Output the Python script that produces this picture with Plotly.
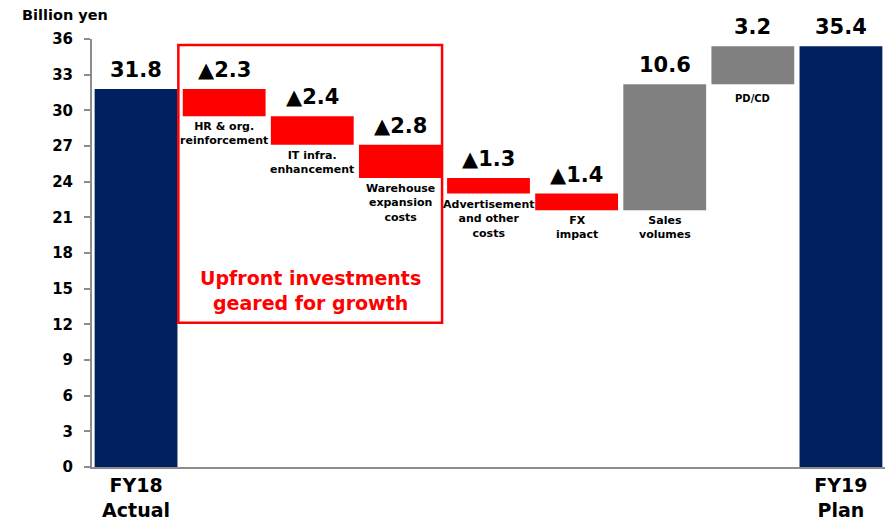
import plotly.graph_objects as go

# Operating profit bridge, FY18 actual -> FY19 plan (billion yen)
categories = [
    "FY18<br>Actual",
    "HR & org.<br>reinforcement",
    "IT infra.<br>enhancement",
    "Warehouse<br>expansion<br>costs",
    "Advertisement<br>and other<br>costs",
    "FX<br>impact",
    "Sales<br>volumes",
    "PD/CD",
    "FY19<br>Plan",
]
start_value = 31.8
changes = [-2.3, -2.4, -2.8, -1.3, -1.4, 10.6, 3.2]
end_value = 35.4
y_ticks = [0, 3, 6, 9, 12, 15, 18, 21, 24, 27, 30, 33, 36]

NAVY = "#002060"
RED = "#FF0000"
GREY = "#808080"
AXIS_GREY = "#8c8c8c"
FONT = "DejaVu Sans"

# Build bar bases / heights from the running total
bases, heights, colors, labels = [0], [start_value], [NAVY], [f"{start_value:.1f}"]
running = start_value
for c in changes:
    if c < 0:
        bases.append(running + c)
        heights.append(-c)
        colors.append(RED)
        labels.append(f"▲{-c:.1f}")
    else:
        bases.append(running)
        heights.append(c)
        colors.append(GREY)
        labels.append(f"{c:.1f}")
    running += c
bases.append(0)
heights.append(end_value)
colors.append(NAVY)
labels.append(f"{end_value:.1f}")

xs = list(range(len(categories)))

fig = go.Figure()
fig.add_trace(go.Bar(
    x=xs, y=heights, base=bases,
    marker=dict(color=colors, line=dict(width=0)),
    width=0.94, hoverinfo="skip",
))

annotations = []
for i, (b, h, lab) in enumerate(zip(bases, heights, labels)):
    top = b + h
    annotations.append(dict(
        x=i, y=top, xref="x", yref="y", text=lab, showarrow=False,
        yanchor="bottom", yshift=5,
        font=dict(family=FONT, size=21, color="black", weight="bold"),
    ))
    if 0 < i < len(categories) - 1:
        small = categories[i] == "PD/CD"
        annotations.append(dict(
            x=i, y=b, xref="x", yref="y", text=categories[i], showarrow=False,
            yanchor="top", yshift=-7 if small else -2,
            font=dict(family=FONT, size=10 if small else 11,
                      color="black", weight="bold"),
        ))

# Bracket around the upfront investment items
box_x0, box_x1, box_y0, box_y1 = 0.48, 3.473, 12.14, 35.49
annotations.append(dict(
    x=(box_x0 + box_x1) / 2, y=14.85, xref="x", yref="y",
    text="Upfront investments<br>geared for growth", showarrow=False,
    font=dict(family=FONT, size=19, color=RED, weight="bold"),
))
annotations.append(dict(
    x=-0.091, y=1.056, xref="paper", yref="paper", text="Billion yen",
    showarrow=False, xanchor="left", yanchor="middle",
    font=dict(family=FONT, size=14.5, color="black", weight="bold"),
))

fig.update_layout(
    width=895, height=520,
    margin=dict(l=92, r=10, t=39, b=53),
    paper_bgcolor="white", plot_bgcolor="white",
    showlegend=False,
    annotations=annotations,
    shapes=[dict(
        type="rect", xref="x", yref="y",
        x0=box_x0, x1=box_x1, y0=box_y0, y1=box_y1,
        line=dict(color=RED, width=2.5), fillcolor="rgba(0,0,0,0)",
    )],
    xaxis=dict(
        range=[-0.5, len(categories) - 0.5],
        tickvals=[0, len(categories) - 1],
        ticktext=[categories[0], categories[-1]],
        tickfont=dict(family=FONT, size=19, color="black", weight="bold"),
        showline=True, linecolor=AXIS_GREY, linewidth=2,
        ticks="", showgrid=False, zeroline=False,
        automargin=False, ticklabelstandoff=0,
    ),
    yaxis=dict(
        range=[0, 36], tickvals=y_ticks,
        tickfont=dict(family=FONT, size=15, color="black", weight="bold"),
        showline=True, linecolor=AXIS_GREY, linewidth=2,
        ticks="outside", ticklen=6, tickcolor=AXIS_GREY, tickwidth=1.5,
        ticklabelstandoff=8, automargin=False,
        showgrid=False, zeroline=False,
    ),
)

fig.write_html("out.html")
